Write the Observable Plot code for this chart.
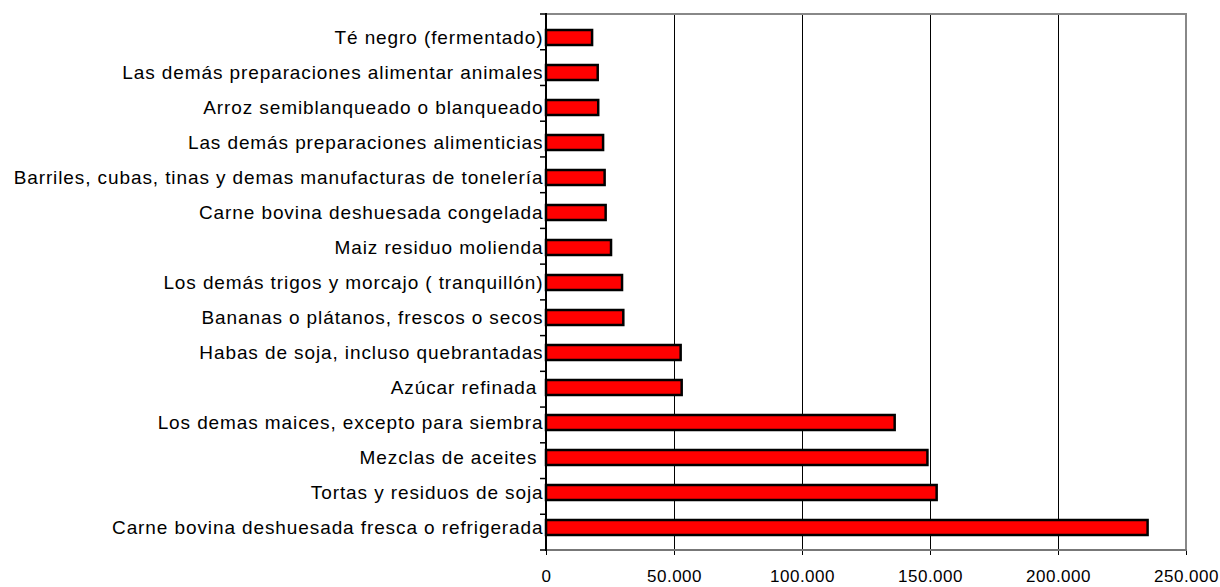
<!DOCTYPE html>
<html>
<head>
<meta charset="utf-8">
<script src="https://cdn.jsdelivr.net/npm/d3@7"></script>
<script src="https://cdn.jsdelivr.net/npm/@observablehq/plot@0.6"></script>
<style>
  html, body { margin: 0; padding: 0; background: #fff; }
  #chart svg { display: block; }
  #chart g[aria-label="y-axis tick label"] text { letter-spacing: 0.9px; }
  #chart g[aria-label="x-axis tick label"] text { letter-spacing: 0.5px; }
</style>
</head>
<body>
<div id="chart"></div>
<script>
const categories = [
  "Té negro (fermentado)",
  "Las demás preparaciones alimentar animales",
  "Arroz semiblanqueado o blanqueado",
  "Las demás preparaciones alimenticias",
  "Barriles, cubas, tinas y demas manufacturas de tonelería",
  "Carne bovina deshuesada congelada",
  "Maiz residuo molienda",
  "Los demás trigos y morcajo ( tranquillón)",
  "Bananas o plátanos, frescos o secos",
  "Habas de soja, incluso quebrantadas",
  "Azúcar refinada ",
  "Los demas maices, excepto para siembra",
  "Mezclas de aceites ",
  "Tortas y residuos de soja",
  "Carne bovina deshuesada fresca o refrigerada"
];
const values = [18000, 20200, 20400, 22300, 22900, 23300, 25400, 29700, 30200, 52600, 53000, 136200, 149000, 152600, 235000];
const xTicks = [0, 50000, 100000, 150000, 200000, 250000];

const data = categories.map((c, i) => ({cat: c, value: values[i]}));
const fmt = v => d3.format(",")(v).replace(/,/g, ".");

const chart = Plot.plot({
  width: 1220,
  height: 587,
  marginLeft: 546,
  marginRight: 34,
  marginTop: 14,
  marginBottom: 37,
  style: {fontFamily: "Liberation Sans, Arial, sans-serif", fontSize: "17px", color: "#000", background: "#fff"},
  x: {domain: [0, 250000], ticks: xTicks},
  y: {domain: categories, paddingInner: 0.58, paddingOuter: 0.29},
  marks: [
    Plot.ruleX(xTicks.slice(1, -1), {stroke: "#000", strokeWidth: 1}),
    Plot.barX(data, {y: "cat", x: "value", fill: "#ff0000", stroke: "#000", strokeWidth: 2.5}),
    Plot.axisX({ticks: xTicks, tickFormat: fmt, tickSize: 5, tickPadding: 14, stroke: "#000", label: null, fontSize: 17}),
    Plot.axisY({tickSize: 0, tickPadding: 3, label: null, fontSize: 19})
  ]
});

const xs = chart.scale("x");
const ys = chart.scale("y");
const [xl, xr] = xs.range;
const [yt, yb] = ys.range;
const svg = d3.select(chart);
const g = svg.append("g");
// frame: top and right grey, bottom grey, left black
g.append("line").attr("x1", xl).attr("x2", xr + 1).attr("y1", yt).attr("y2", yt).attr("stroke", "#888").attr("stroke-width", 2);
g.append("line").attr("x1", xr).attr("x2", xr).attr("y1", yt).attr("y2", yb).attr("stroke", "#888").attr("stroke-width", 2);
g.append("line").attr("x1", xl).attr("x2", xr + 1).attr("y1", yb).attr("y2", yb).attr("stroke", "#777").attr("stroke-width", 2);
g.append("line").attr("x1", xl).attr("x2", xl).attr("y1", yt - 1).attr("y2", yb + 1).attr("stroke", "#000").attr("stroke-width", 2);
// category boundary ticks on the left axis
const n = categories.length;
const bounds = d3.range(n + 1).map(i => yt + i * (yb - yt) / n);
g.selectAll("line.bt")
  .data(bounds)
  .join("line")
  .attr("class", "bt")
  .attr("x1", xl - 6).attr("x2", xl)
  .attr("y1", d => d).attr("y2", d => d)
  .attr("stroke", "#000").attr("stroke-width", 1.5);

document.getElementById("chart").append(chart);
</script>
</body>
</html>
